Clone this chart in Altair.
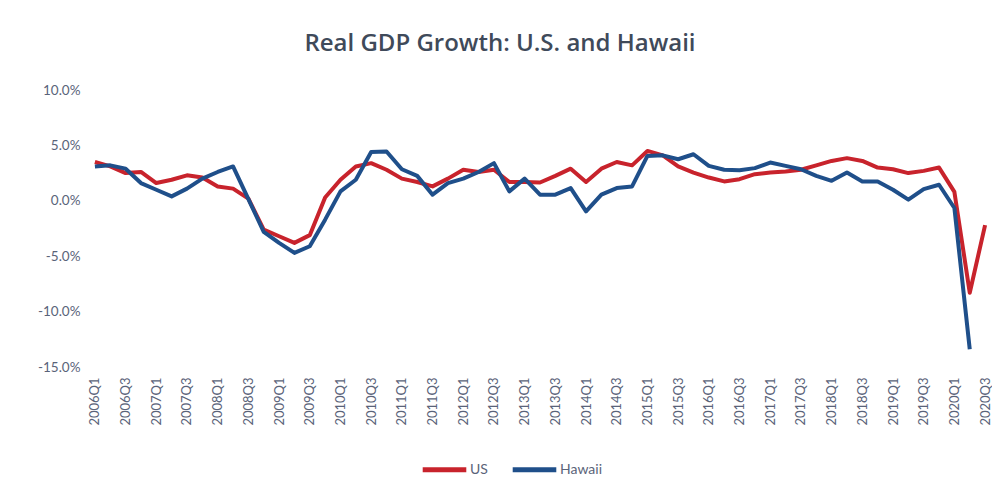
import altair as alt
import pandas as pd

years = list(range(2006, 2021))
quarters = [f"{y}Q{q}" for y in years for q in (1, 2, 3, 4)][:59]  # 2006Q1..2020Q3
tick_labels = [q for q in quarters if q.endswith("Q1") or q.endswith("Q3")]

us = [3.5, 3.1, 2.5, 2.6, 1.6, 1.9, 2.3, 2.1, 1.3, 1.1,
      0.2, -2.6, -3.2, -3.8, -3.1, 0.3, 1.9, 3.1, 3.4, 2.8,
      2.0, 1.7, 1.3, 2.0, 2.8, 2.6, 2.8, 1.7, 1.7, 1.65,
      2.25, 2.9, 1.7, 2.9, 3.5, 3.2, 4.5, 4.1, 3.1, 2.55,
      2.1, 1.75, 1.95, 2.4, 2.55, 2.65, 2.8, 3.2, 3.6, 3.85,
      3.6, 3.0, 2.85, 2.5, 2.7, 3.0, 0.8, -8.3, -2.2]

hawaii = [3.1, 3.2, 2.9, 1.6, 1.0, 0.4, 1.1, 2.0, 2.6, 3.1,
          0.15, -2.8, -3.8, -4.7, -4.1, -1.7, 0.85, 1.9, 4.4, 4.45,
          2.85, 2.25, 0.55, 1.6, 2.0, 2.6, 3.4, 0.85, 2.0, 0.55,
          0.55, 1.15, -0.95, 0.55, 1.15, 1.3, 4.05, 4.1, 3.75, 4.2,
          3.15, 2.8, 2.75, 2.95, 3.45, 3.15, 2.85, 2.25, 1.8, 2.55,
          1.75, 1.75, 1.0, 0.1, 1.05, 1.45, -0.65, -13.4]

series_names = ["US", "Hawaii"]
series_colors = ["#c8232c", "#1f4f8a"]

rows = []
for q, v in zip(quarters, us):
    rows.append({"quarter": q, "series": "US", "value": v})
for q, v in zip(quarters, hawaii):
    rows.append({"quarter": q, "series": "Hawaii", "value": v})
df = pd.DataFrame(rows)

label_color = "#5a6379"
font = "Lato"

x = alt.X("quarter:O", sort=quarters,
          scale=alt.Scale(type="point", padding=0.45),
          axis=alt.Axis(values=tick_labels, labelAngle=-90, labelAlign="right",
                        labelBaseline="middle", labelPadding=10, ticks=False,
                        domain=False, grid=False, title=None, labelFontSize=13,
                        labelColor=label_color, labelFont=font))
y = alt.Y("value:Q",
          scale=alt.Scale(domain=[-15, 10], nice=False),
          axis=alt.Axis(values=[-15, -10, -5, 0, 5, 10],
                        labelExpr="(datum.value < 0 ? '-' + format(-datum.value, '.1f') : format(datum.value, '.1f')) + '%'",
                        ticks=False, domain=False, grid=False, title=None,
                        labelPadding=8, labelFontSize=13.5,
                        labelColor=label_color, labelFont=font))
color = alt.Color("series:N",
                  scale=alt.Scale(domain=series_names, range=series_colors),
                  legend=alt.Legend(title=None, orient="none", direction="horizontal",
                                    legendX=332, legendY=355,
                                    symbolType="stroke", symbolStrokeWidth=5,
                                    symbolSize=1900, labelFontSize=14,
                                    labelColor=label_color, labelFont=font,
                                    labelOffset=1, columnPadding=14))

base = alt.Chart(df)
layers = [
    base.transform_filter(alt.datum.series == name)
        .mark_line(strokeWidth=4, strokeJoin="round")
        .encode(x=x, y=y, color=color)
    for name in series_names
]

chart = alt.layer(*layers).properties(
    width=904,
    height=277,
    title=alt.TitleParams("Real GDP Growth: U.S. and Hawaii", fontSize=24,
                          font="Open Sans", fontWeight=600, color="#3f4a5a",
                          anchor="middle", dx=-40, offset=27),
    autosize=alt.AutoSizeParams(type="none"),
    padding={"left": 80, "top": 82, "right": 0, "bottom": 125},
).configure_view(stroke=None)

chart.save("out.html", embed_options={"renderer": "svg", "actions": False})
